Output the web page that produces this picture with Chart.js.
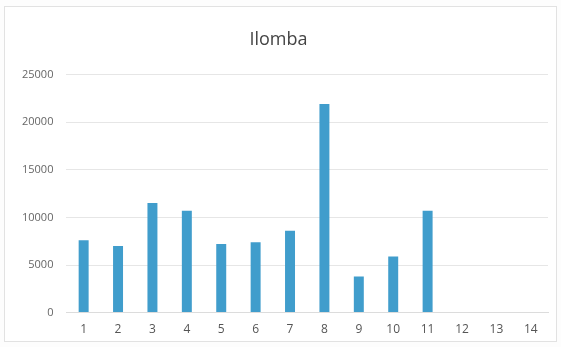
<!DOCTYPE html>
<html>
<head>
<meta charset="utf-8">
<script src="https://cdn.jsdelivr.net/npm/chart.js@4"></script>
<style>
  html, body { margin: 0; padding: 0; background: #fdfdfd; }
  #wrap { position: absolute; left: 4px; top: 6px; width: 551px; height: 334px; border: 1px solid #e2e2e2; background: #fff; }
</style>
</head>
<body>
<div id="wrap"><canvas id="ilombaChart"></canvas></div>
<script>
const categories = ['1', '2', '3', '4', '5', '6', '7', '8', '9', '10', '11', '12', '13', '14'];
const ilombaValues = [7600, 7000, 11500, 10700, 7200, 7400, 8600, 21900, 3800, 5900, 10700, null, null, null];
const yTicks = [0, 5000, 10000, 15000, 20000, 25000];

const ctx = document.getElementById('ilombaChart').getContext('2d');
new Chart(ctx, {
  type: 'bar',
  data: {
    labels: categories,
    datasets: [{
      label: 'Ilomba',
      data: ilombaValues,
      backgroundColor: '#409dcc',
      barPercentage: 0.29,
      categoryPercentage: 1
    }]
  },
  options: {
    responsive: true,
    maintainAspectRatio: false,
    animation: false,
    layout: { padding: { left: 4, right: 8, top: 6, bottom: 2 } },
    plugins: {
      legend: { display: false },
      tooltip: { enabled: false },
      title: {
        display: true,
        text: 'Ilomba',
        color: '#444',
        font: { family: 'Open Sans', size: 18, weight: 'normal' },
        padding: { top: 16, bottom: 24 }
      }
    },
    scales: {
      y: {
        min: 0,
        max: 25000,
        afterBuildTicks: (axis) => { axis.ticks = yTicks.map(v => ({ value: v })); },
        ticks: {
          color: '#666',
          font: { family: 'Open Sans', size: 11 },
          padding: 13,
          callback: (v) => String(v)
        },
        grid: { color: '#e6e6e6', drawTicks: false },
        border: { display: false }
      },
      x: {
        ticks: {
          color: '#555',
          font: { family: 'Open Sans', size: 12 },
          padding: 2
        },
        grid: { display: false },
        border: { display: true, color: '#dcdcdc' }
      }
    }
  }
});
</script>
</body>
</html>
